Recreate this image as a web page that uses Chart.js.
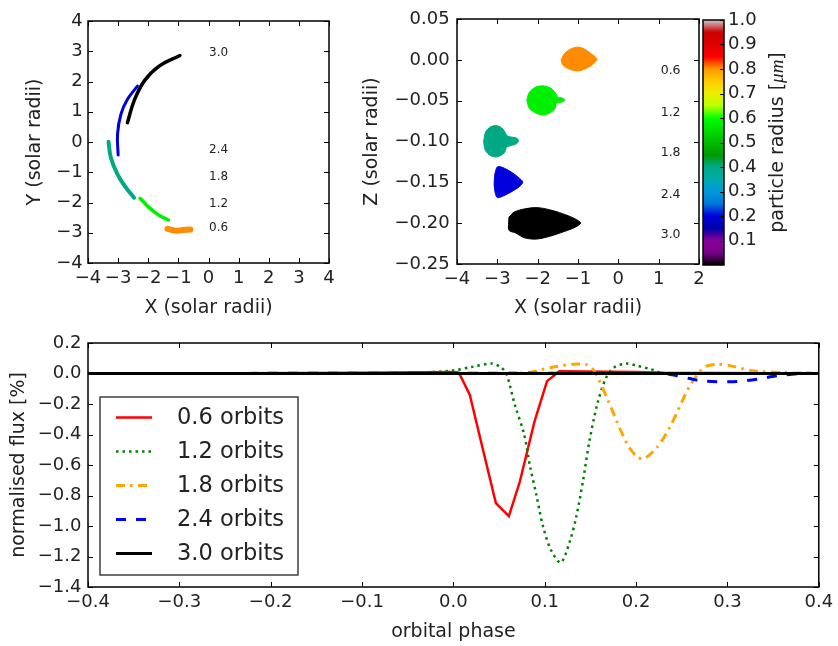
<!DOCTYPE html>
<html lang="en">
<head>
<meta charset="UTF-8">
<title>Dust cloud orbits and light curves</title>
<script src="https://cdn.jsdelivr.net/npm/chart.js"></script>
<style>
    body { margin: 0; background: #fff; width: 838px; height: 646px; position: relative; overflow: hidden; }
    canvas { position: absolute; }
    #topView { left: 0; top: 0; }
    #sideView { left: 345px; top: 0; }
    #cbar { left: 695px; top: 0; }
    #flux { left: 0; top: 320px; }
</style>
</head>
<body>
<canvas id="topView" width="345" height="330"></canvas>
<canvas id="sideView" width="370" height="330"></canvas>
<canvas id="cbar" width="143" height="330"></canvas>
<canvas id="flux" width="838" height="326"></canvas>
<script>
// orbit numbers used for labels and legend
const orbitLabels = ['0.6', '1.2', '1.8', '2.4', '3.0'];

// top view: cloud tracks in X-Y (solar radii)
const arcX06 = [-1.36, -1.1, -0.85, -0.6];
const arcY06 = [-2.87, -2.93, -2.91, -2.89];
const arcX12 = [-2.27, -1.97, -1.64, -1.33];
const arcY12 = [-1.86, -2.17, -2.42, -2.58];
const arcX18 = [-3.32, -3.24, -3.02, -2.74, -2.47];
const arcY18 = [0.01, -0.52, -1.07, -1.51, -1.84];
const arcX24 = [-2.36, -2.69, -2.91, -3.02, -3.0];
const arcY24 = [1.85, 1.41, 0.91, 0.25, -0.43];
const arcX30 = [-2.69, -2.47, -2.13, -1.64, -0.95];
const arcY30 = [0.64, 1.36, 2.02, 2.51, 2.86];
const topLabelX = 0.02;
const topLabelY = [-2.84, -2.03, -1.15, -0.26, 2.95];

// side view: cloud outlines in X-Z (solar radii)
const blobX06 = [-1.42, -1.33, -1.17, -1.00, -0.835, -0.67, -0.53, -0.63, -0.835, -1.00, -1.21, -1.38];
const blobZ06 = [0.000, 0.0082, 0.0135, 0.0156, 0.0131, 0.0074, 0.0008, -0.0053, -0.0115, -0.0135, -0.0115, -0.0061];
const blobX12 = [-2.27, -2.21, -2.06, -1.86, -1.67, -1.54, -1.50, -1.42, -1.32, -1.42, -1.53, -1.58, -1.75, -1.88, -2.06, -2.21];
const blobZ12 = [-0.0491, -0.0401, -0.0336, -0.0319, -0.0348, -0.0418, -0.0463, -0.0463, -0.0491, -0.052, -0.0532, -0.0606, -0.0663, -0.0676, -0.0647, -0.0594];
const blobX18 = [-3.34, -3.29, -3.16, -3.00, -2.86, -2.77, -2.71, -2.54, -2.47, -2.54, -2.71, -2.77, -2.83, -3.00, -3.16, -3.30];
const blobZ18 = [-0.1003, -0.0880, -0.0819, -0.0807, -0.0848, -0.0921, -0.0942, -0.0954, -0.0991, -0.1032, -0.1057, -0.1073, -0.1139, -0.1188, -0.1176, -0.1106];
const blobX24 = [-3.06, -3.00, -2.87, -2.66, -2.46, -2.37, -2.44, -2.66, -2.87, -3.00, -3.05, -3.08];
const blobZ24 = [-0.1392, -0.1311, -0.1318, -0.1372, -0.1446, -0.1495, -0.1548, -0.1618, -0.1671, -0.1687, -0.1638, -0.1515];
const blobX30 = [-2.71, -2.58, -2.29, -2.00, -1.71, -1.38, -1.08, -0.935, -1.06, -1.38, -1.71, -2.04, -2.33, -2.54, -2.71, -2.72];
const blobZ30 = [-0.1925, -0.1863, -0.1822, -0.1810, -0.1835, -0.1884, -0.1945, -0.1998, -0.2047, -0.2109, -0.2162, -0.2195, -0.2179, -0.2121, -0.2088, -0.1998];
const sideLabelX = 1.05;
const sideLabelZ = [-0.0133, -0.0647, -0.1139, -0.1646, -0.2141];

// colour scale of particle radius
const cmapStops = [
    [0.00, '#000000'], [0.05, '#770088'], [0.10, '#880099'], [0.15, '#0000aa'],
    [0.20, '#0000dd'], [0.25, '#0077dd'], [0.30, '#0099dd'], [0.35, '#00aaaa'],
    [0.40, '#00aa88'], [0.45, '#009900'], [0.50, '#00bb00'], [0.55, '#00dd00'],
    [0.60, '#00ff00'], [0.65, '#bbff00'], [0.70, '#eeee00'], [0.75, '#ffcc00'],
    [0.80, '#ff9900'], [0.85, '#ff0000'], [0.90, '#dd0000'], [0.95, '#cc0000'],
    [1.00, '#cccccc']
];
const cloudColors = ['#ff8c00', '#00f000', '#00a884', '#0000dd', '#000000'];

// light curves: orbital phase vs normalised flux [%]
const phase06 = [-0.4, -0.28, -0.1, 0.0, 0.006, 0.018, 0.032, 0.0465, 0.0607, 0.0727, 0.089, 0.1025, 0.116, 0.2, 0.23, 0.4];
const flux06 = [0, 0, 0.005, 0.01, 0.005, -0.14, -0.49, -0.85, -0.935, -0.71, -0.31, -0.05, 0.015, 0.01, 0.005, 0];
const phase12 = [-0.4, -0.1, -0.04, 0.0, 0.02, 0.0425, 0.052, 0.058, 0.067, 0.0775, 0.0836, 0.091, 0.098, 0.107, 0.1175, 0.127, 0.1345, 0.142, 0.149, 0.158, 0.167, 0.176, 0.189, 0.2018, 0.216, 0.227, 0.24, 0.4];
const flux12 = [0, 0, 0.005, 0.02, 0.043, 0.065, 0.04, 0.0, -0.2, -0.4, -0.6, -0.8, -1.0, -1.16, -1.24, -1.11, -0.94, -0.70, -0.44, -0.19, -0.03, 0.04, 0.065, 0.05, 0.028, 0.006, 0, 0];
const phase18 = [-0.4, 0.0, 0.08, 0.107, 0.13, 0.147, 0.155, 0.16, 0.171, 0.18, 0.191, 0.2, 0.208, 0.2236, 0.238, 0.249, 0.26, 0.2745, 0.289, 0.3036, 0.3255, 0.362, 0.4];
const flux18 = [0, 0, 0.005, 0.04, 0.06, 0.056, 0.01, -0.05, -0.2, -0.33, -0.47, -0.54, -0.56, -0.48, -0.34, -0.2, -0.07, 0.04, 0.06, 0.05, 0.02, 0.006, 0];
const phase24 = [-0.4, 0.23, 0.245, 0.26, 0.271, 0.289, 0.311, 0.333, 0.3545, 0.38, 0.4];
const flux24 = [0, 0, -0.015, -0.035, -0.048, -0.054, -0.052, -0.037, -0.015, 0, 0];
const phase30 = [-0.4, 0.0, 0.4];
const flux30 = [0, 0, 0];

const xTicksTop = { min: -4, max: 4, step: 1 };
const zTicksSide = { min: -0.25, max: 0.05, step: 0.05 };
const xTicksSide = { min: -4, max: 2, step: 1 };
const phaseTicks = { min: -0.4, max: 0.4, step: 0.1 };
const fluxTicks = { min: -1.4, max: 0.2, step: 0.2 };

Chart.defaults.font.family = "'DejaVu Sans', sans-serif";
Chart.defaults.color = '#222';
Chart.defaults.animation = false;

const toPts = (xs, ys) => xs.map((v, i) => ({ x: v, y: ys[i] }));
const closed = (xs, ys) => toPts(xs.concat([xs[0]]), ys.concat([ys[0]]));
const fmt = d => v => {
    if (Math.abs(v) < 1e-9) v = 0;
    return v.toFixed(d).replace('-', '\u2212');
};

// matplotlib style box with inward ticks
const frame = {
    id: 'frame',
    afterDraw(chart, args, opts) {
        const { ctx, chartArea: a, scales } = chart;
        const len = opts.tickLen || 5;
        ctx.save();
        ctx.strokeStyle = '#000';
        ctx.lineWidth = 1;
        ctx.beginPath();
        const sides = opts.sides || ['top', 'bottom', 'left', 'right'];
        if (scales.x && scales.x.options.display !== false) {
            scales.x.ticks.forEach(t => {
                const p = Math.round(scales.x.getPixelForValue(t.value)) + 0.5;
                if (sides.includes('bottom')) { ctx.moveTo(p, a.bottom); ctx.lineTo(p, a.bottom - len); }
                if (sides.includes('top')) { ctx.moveTo(p, a.top); ctx.lineTo(p, a.top + len); }
            });
        }
        scales.y.ticks.forEach(t => {
            if (t.label === '') return;
            const p = Math.round(scales.y.getPixelForValue(t.value)) + 0.5;
            if (sides.includes('left')) { ctx.moveTo(a.left, p); ctx.lineTo(a.left + len, p); }
            if (sides.includes('right')) { ctx.moveTo(a.right, p); ctx.lineTo(a.right - len, p); }
        });
        ctx.stroke();
        ctx.lineWidth = 1.5;
        ctx.strokeRect(a.left, a.top, a.right - a.left, a.bottom - a.top);
        ctx.restore();
    }
};

// small orbit number labels inside the panels
const orbitText = {
    id: 'orbitText',
    afterDatasetsDraw(chart, args, opts) {
        const { ctx, scales: { x, y } } = chart;
        ctx.save();
        ctx.font = opts.font;
        ctx.fillStyle = '#222';
        ctx.textAlign = 'left';
        ctx.textBaseline = 'middle';
        opts.y.forEach((v, i) => ctx.fillText(opts.text[i], x.getPixelForValue(opts.x), y.getPixelForValue(v)));
        ctx.restore();
    }
};

function axis(range, dec, pad, title, titlePad, size, isX) {
    return {
        type: 'linear',
        min: range.min,
        max: range.max,
        ticks: { stepSize: range.step, padding: pad, autoSkip: false, maxRotation: 0, font: { size: 18 }, callback: fmt(dec) },
        grid: { display: false, drawTicks: false },
        border: { display: false },
        title: { display: true, text: title, font: { size: 19 }, padding: isX ? { top: 0, bottom: titlePad } : { top: titlePad, bottom: 0 } },
        afterFit: s => { if (isX) s.height = size; else s.width = size; }
    };
}

// top view
new Chart(document.getElementById('topView'), {
    type: 'scatter',
    data: {
        datasets: [
            { data: toPts(arcX06, arcY06), borderColor: cloudColors[0], borderWidth: 6 },
            { data: toPts(arcX12, arcY12), borderColor: cloudColors[1], borderWidth: 3.5 },
            { data: toPts(arcX18, arcY18), borderColor: cloudColors[2], borderWidth: 4 },
            { data: toPts(arcX24, arcY24), borderColor: cloudColors[3], borderWidth: 3 },
            { data: toPts(arcX30, arcY30), borderColor: cloudColors[4], borderWidth: 3.5 }
        ].map(d => Object.assign(d, { showLine: true, pointRadius: 0, tension: 0.4, borderCapStyle: 'round' }))
    },
    options: {
        responsive: false,
        layout: { padding: { top: 21, right: 16, left: 0, bottom: 0 } },
        plugins: {
            legend: { display: false }, tooltip: { enabled: false },
            orbitText: { x: topLabelX, y: topLabelY, text: orbitLabels, font: "12px 'DejaVu Sans'" }
        },
        scales: {
            x: axis(xTicksTop, 0, 5, 'X (solar radii)', 10.6, 67, true),
            y: axis(xTicksTop, 0, 5.3, 'Y (solar radii)', 23.6, 88, false)
        }
    },
    plugins: [frame, orbitText]
});

// side view
const blobs = [[blobX06, blobZ06], [blobX12, blobZ12], [blobX18, blobZ18], [blobX24, blobZ24], [blobX30, blobZ30]];
new Chart(document.getElementById('sideView'), {
    type: 'scatter',
    data: {
        datasets: blobs.map((b, i) => ({
            data: closed(b[0], b[1]),
            showLine: true, pointRadius: 0, tension: 0.3,
            borderColor: cloudColors[i], backgroundColor: cloudColors[i], borderWidth: 1, fill: 'shape'
        }))
    },
    options: {
        responsive: false,
        layout: { padding: { top: 19, right: 16, left: 0, bottom: 0 } },
        plugins: {
            legend: { display: false }, tooltip: { enabled: false },
            orbitText: { x: sideLabelX, y: sideLabelZ, text: orbitLabels, font: "12.5px 'DejaVu Sans'" }
        },
        scales: {
            x: axis(xTicksSide, 0, 4.2, 'X (solar radii)', 10.6, 66, true),
            y: axis(zTicksSide, 2, 7.3, 'Z (solar radii)', 15.9, 112, false)
        }
    },
    plugins: [frame, orbitText]
});

// colour bar
const cbTitle = {
    id: 'cbTitle',
    afterDraw(chart) {
        const { ctx, chartArea: a } = chart;
        const parts = [["19px 'DejaVu Sans'", 'particle radius ['], ["italic 19px 'Liberation Serif'", '\u03bcm'], ["19px 'DejaVu Sans'", ']']];
        let total = 0;
        parts.forEach(p => { ctx.font = p[0]; total += ctx.measureText(p[1]).width; });
        ctx.save();
        ctx.translate(83, (a.top + a.bottom) / 2);
        ctx.rotate(-Math.PI / 2);
        ctx.fillStyle = '#222';
        ctx.textBaseline = 'middle';
        let x = -total / 2;
        parts.forEach(p => { ctx.font = p[0]; ctx.fillText(p[1], x, 0); x += ctx.measureText(p[1]).width; });
        ctx.restore();
    }
};
new Chart(document.getElementById('cbar'), {
    type: 'bar',
    data: {
        labels: ['radius'],
        datasets: [{
            data: [1],
            barPercentage: 1, categoryPercentage: 1, borderWidth: 0,
            backgroundColor: c => {
                const a = c.chart.chartArea;
                if (!a) return null;
                const g = c.chart.ctx.createLinearGradient(0, a.bottom, 0, a.top);
                cmapStops.forEach(s => g.addColorStop(s[0], s[1]));
                return g;
            }
        }]
    },
    options: {
        responsive: false,
        layout: { padding: { top: 20, right: 0, left: 8, bottom: 65 } },
        plugins: { legend: { display: false }, tooltip: { enabled: false }, frame: { sides: ['right'], tickLen: 4 } },
        scales: {
            x: { display: false },
            y: {
                position: 'right', min: 0, max: 1,
                ticks: { stepSize: 0.1, padding: 4, autoSkip: false, font: { size: 18 }, callback: v => v < 0.05 ? '' : v.toFixed(1) },
                grid: { display: false, drawTicks: false },
                border: { display: false },
                afterFit: s => { s.width = 114; }
            }
        }
    },
    plugins: [frame, cbTitle]
});

// light curves
const fluxLegend = {
    id: 'fluxLegend',
    afterDraw(chart) {
        const { ctx, chartArea: a } = chart;
        const left = a.left + 12, top = a.top + 54;
        ctx.save();
        ctx.fillStyle = '#fff';
        ctx.fillRect(left, top, 198, 178);
        ctx.strokeStyle = '#222';
        ctx.lineWidth = 1.3;
        ctx.strokeRect(left, top, 198, 178);
        ctx.font = "22.5px 'DejaVu Sans'";
        ctx.textBaseline = 'middle';
        ctx.fillStyle = '#222';
        chart.data.datasets.forEach((d, i) => {
            const y = Math.round(a.top + 73.5 + i * 34.2) + 0.5;
            ctx.beginPath();
            ctx.strokeStyle = d.borderColor;
            ctx.lineWidth = d.borderWidth;
            ctx.setLineDash(d.borderDash || []);
            ctx.moveTo(a.left + 28, y);
            ctx.lineTo(a.left + 64, y);
            ctx.stroke();
            ctx.fillText(d.label, a.left + 89, y + 1);
        });
        ctx.restore();
    }
};
const curves = [[phase06, flux06], [phase12, flux12], [phase18, flux18], [phase24, flux24], [phase30, flux30]];
const curveStyle = [
    { borderColor: '#ff0000', borderWidth: 2.5, borderDash: [], tension: 0 },
    { borderColor: '#008000', borderWidth: 2.5, borderDash: [2.5, 4], tension: 0.3 },
    { borderColor: '#ffa500', borderWidth: 3, borderDash: [9, 5, 2.5, 5.5], tension: 0.3 },
    { borderColor: '#0000ff', borderWidth: 3, borderDash: [10, 10], tension: 0.3 },
    { borderColor: '#000000', borderWidth: 3, borderDash: [], tension: 0 }
];
new Chart(document.getElementById('flux'), {
    type: 'scatter',
    data: {
        datasets: curves.map((c, i) => Object.assign({
            label: orbitLabels[i] + ' orbits',
            data: toPts(c[0], c[1]),
            showLine: true, pointRadius: 0, order: 5 - i
        }, curveStyle[i]))
    },
    options: {
        responsive: false,
        layout: { padding: { top: 23, right: 16, left: 0, bottom: 0 } },
        plugins: { legend: { display: false }, tooltip: { enabled: false } },
        scales: {
            x: axis(phaseTicks, 1, 4.9, 'orbital phase', 2.9, 59, true),
            y: axis(fluxTicks, 1, 6.6, 'normalised flux [%]', 7.6, 88, false)
        }
    },
    plugins: [frame, fluxLegend]
});
</script>
</body>
</html>
